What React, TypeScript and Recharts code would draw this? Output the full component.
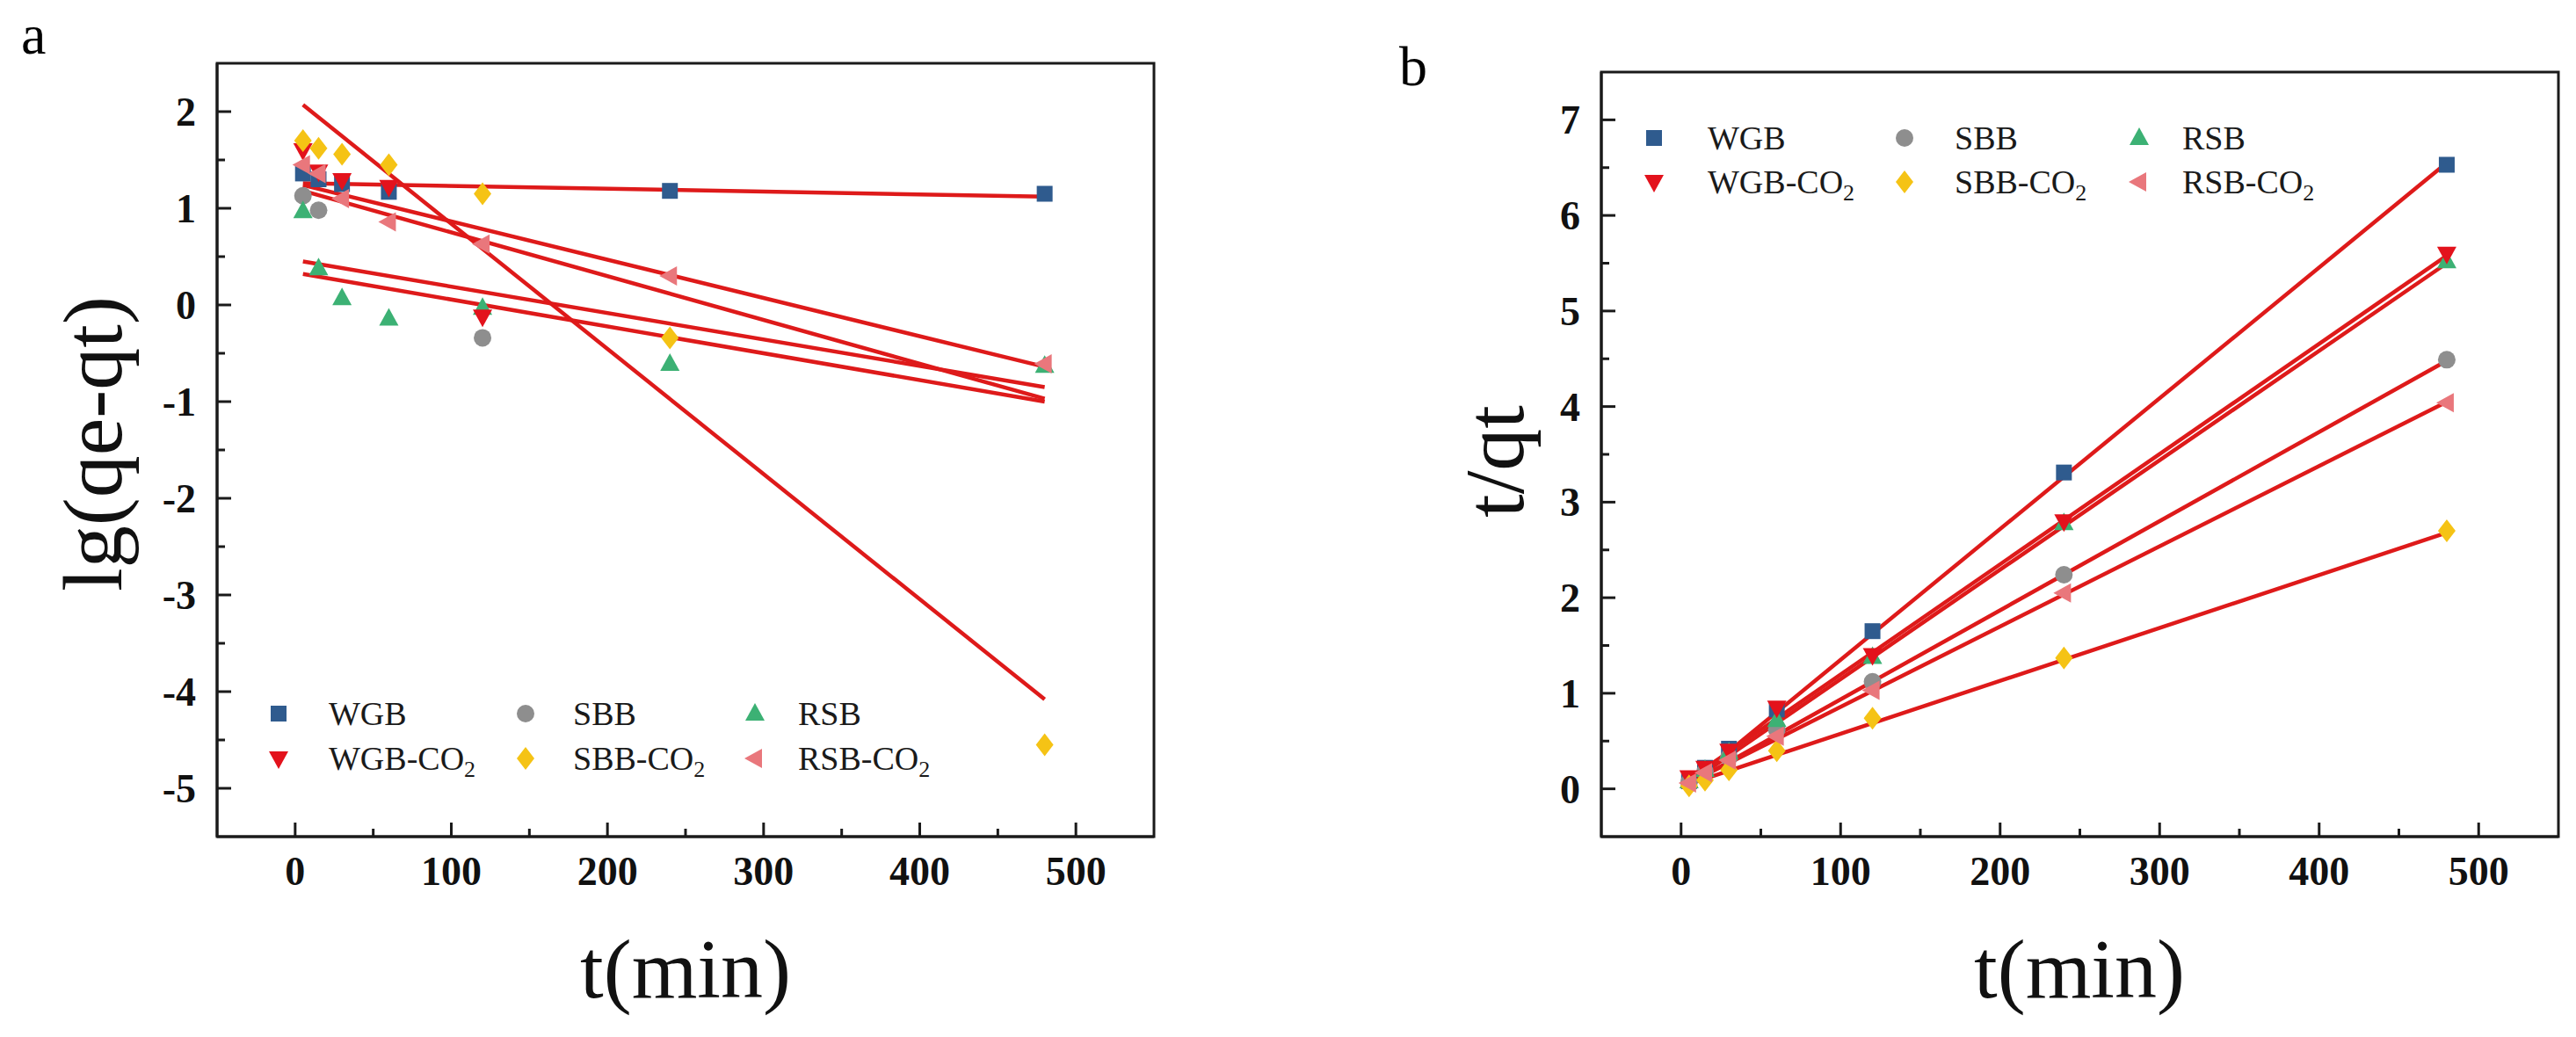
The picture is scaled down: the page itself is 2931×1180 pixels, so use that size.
import React from 'react';
import {
  ComposedChart,
  Scatter,
  Line,
  XAxis,
  YAxis,
  ReferenceArea,
  Legend,
  Label,
} from 'recharts';

const SERIF = "'Liberation Serif', 'Times New Roman', serif";

// sampling times (min)
const times = [5, 15, 30, 60, 120, 240, 480];
const fitTimes = [5, 480];

// panel a: pseudo-first-order, lg(qe-qt)
const lgWGB = [1.36, 1.3, 1.25, 1.17, null, 1.18, 1.15];
const lgWGBCO2 = [1.6, 1.38, 1.29, 1.22, -0.12, null, null];
const lgSBB = [1.13, 0.98, null, null, -0.34, null, null];
const lgSBBCO2 = [1.7, 1.62, 1.56, 1.45, 1.15, -0.34, -4.55];
const lgRSB = [0.97, 0.38, 0.07, -0.14, -0.03, -0.61, -0.63];
const lgRSBCO2 = [1.45, 1.36, 1.1, 0.86, 0.63, 0.3, -0.61];

// fitted line end values (t = 5, t = 480)
const fitLgWGB = [1.26, 1.12];
const fitLgWGBCO2 = [1.18, -0.97];
const fitLgSBB = [0.32, -1.0];
const fitLgSBBCO2 = [2.07, -4.08];
const fitLgRSB = [0.45, -0.85];
const fitLgRSBCO2 = [1.24, -0.64];

// panel b: pseudo-second-order, t/qt
const tqWGB = [0.08, 0.22, 0.42, 0.83, 1.65, 3.31, 6.53];
const tqWGBCO2 = [0.12, 0.22, 0.4, 0.85, 1.4, 2.8, 5.6];
const tqSBB = [0.07, 0.18, 0.33, 0.62, 1.12, 2.24, 4.49];
const tqSBBCO2 = [0.03, 0.09, 0.2, 0.4, 0.74, 1.37, 2.7];
const tqRSB = [0.08, 0.2, 0.38, 0.72, 1.38, 2.78, 5.52];
const tqRSBCO2 = [0.06, 0.17, 0.3, 0.55, 1.03, 2.05, 4.04];

const fitTqWGB = [0.05, 6.55];
const fitTqWGBCO2 = [0.1, 5.58];
const fitTqSBB = [0.05, 4.48];
const fitTqSBBCO2 = [0.05, 2.68];
const fitTqRSB = [0.06, 5.5];
const fitTqRSBCO2 = [0.06, 4.05];

const xTicks = [0, 50, 100, 150, 200, 250, 300, 350, 400, 450, 500];
const yTicksA = [-5, -4.5, -4, -3.5, -3, -2.5, -2, -1.5, -1, -0.5, 0, 0.5, 1, 1.5, 2];
const yTicksB = [0, 0.5, 1, 1.5, 2, 2.5, 3, 3.5, 4, 4.5, 5, 5.5, 6, 6.5, 7];

type Kind = 'square' | 'circle' | 'up' | 'down' | 'diamond' | 'left';

const seriesStyle: { name: string; co2: boolean; color: string; kind: Kind }[] = [
  { name: 'WGB', co2: false, color: '#2f5b8e', kind: 'square' },
  { name: 'SBB', co2: false, color: '#8e8e8e', kind: 'circle' },
  { name: 'RSB', co2: false, color: '#3cb174', kind: 'up' },
  { name: 'WGB', co2: true, color: '#e3121c', kind: 'down' },
  { name: 'SBB', co2: true, color: '#f5c315', kind: 'diamond' },
  { name: 'RSB', co2: true, color: '#e9777c', kind: 'left' },
];

const FIT_RED = '#de1a1a';

const toPts = (vals: (number | null)[]) =>
  times.map((t, i) => ({ t, v: vals[i] })).filter((p) => p.v !== null);
const toFit = (vals: number[]) => fitTimes.map((t, i) => ({ t, v: vals[i] }));

const pointsA = [lgWGB, lgSBB, lgRSB, lgWGBCO2, lgSBBCO2, lgRSBCO2].map(toPts);
const fitsA = [fitLgWGB, fitLgSBB, fitLgRSB, fitLgWGBCO2, fitLgSBBCO2, fitLgRSBCO2].map(toFit);
const pointsB = [tqWGB, tqSBB, tqRSB, tqWGBCO2, tqSBBCO2, tqRSBCO2].map(toPts);
const fitsB = [fitTqWGB, fitTqSBB, fitTqRSB, fitTqWGBCO2, fitTqSBBCO2, fitTqRSBCO2].map(toFit);

function Marker({ kind, cx, cy, color }: { kind: Kind; cx: number; cy: number; color: string }) {
  switch (kind) {
    case 'square':
      return <rect x={cx - 9} y={cy - 9} width={18} height={18} fill={color} />;
    case 'circle':
      return <circle cx={cx} cy={cy} r={10} fill={color} />;
    case 'up':
      return <path d={`M${cx},${cy - 12} L${cx + 11},${cy + 8} L${cx - 11},${cy + 8} Z`} fill={color} />;
    case 'down':
      return <path d={`M${cx},${cy + 12} L${cx + 11},${cy - 8} L${cx - 11},${cy - 8} Z`} fill={color} />;
    case 'diamond':
      return <path d={`M${cx},${cy - 13} L${cx + 10},${cy} L${cx},${cy + 13} L${cx - 10},${cy} Z`} fill={color} />;
    case 'left':
      return <path d={`M${cx - 12},${cy} L${cx + 8},${cy - 11} L${cx + 8},${cy + 11} Z`} fill={color} />;
  }
  return null;
}

const XTick = (props: any) => {
  const { x, y, payload } = props;
  const v = payload.value;
  const major = v % 100 === 0;
  return (
    <g>
      <line x1={x} x2={x} y1={y} y2={y - (major ? 16 : 9)} stroke="#1a1a1a" strokeWidth={3} />
      {major && (
        <text x={x} y={y + 55} textAnchor="middle" fontFamily={SERIF} fontWeight={700} fontSize={46} fill="#111">
          {v}
        </text>
      )}
    </g>
  );
};

const YTick = (props: any) => {
  const { x, y, payload } = props;
  const v = payload.value;
  const major = Number.isInteger(v);
  return (
    <g>
      <line x1={x} x2={x + (major ? 16 : 9)} y1={y} y2={y} stroke="#1a1a1a" strokeWidth={3} />
      {major && (
        <text x={x - 24} y={y + 16} textAnchor="end" fontFamily={SERIF} fontWeight={700} fontSize={46} fill="#111">
          {v}
        </text>
      )}
    </g>
  );
};

type LegendLayout = { markerX: number[]; textX: number[]; rowY: number[] };

function LegendGrid({ layout }: { layout: LegendLayout }) {
  return (
    <div style={{ position: 'absolute', left: 0, top: 0 }}>
      {seriesStyle.map((s, i) => {
        const col = i % 3;
        const row = Math.floor(i / 3);
        const cy = layout.rowY[row];
        return (
          <React.Fragment key={i}>
            <svg
              width={40}
              height={40}
              style={{ position: 'absolute', left: layout.markerX[col] - 20, top: cy - 20 }}
            >
              <Marker kind={s.kind} cx={20} cy={20} color={s.color} />
            </svg>
            <div
              style={{
                position: 'absolute',
                left: layout.textX[col],
                top: cy - 25,
                height: 50,
                lineHeight: '50px',
                fontFamily: SERIF,
                fontSize: 38,
                color: '#1a1a1a',
                whiteSpace: 'nowrap',
              }}
            >
              {s.name}
              {s.co2 && (
                <>
                  -CO<sub style={{ fontSize: 26, verticalAlign: -8, lineHeight: 0 }}>2</sub>
                </>
              )}
            </div>
          </React.Fragment>
        );
      })}
    </div>
  );
}

type PanelProps = {
  width: number;
  margin: { top: number; right: number; bottom: number; left: number };
  yDomain: [number, number];
  yTicks: number[];
  points: { t: number; v: number | null }[][];
  fits: { t: number; v: number }[][];
  xTitle: { x: number; y: number };
  yTitle: { x: number; y: number; text: string };
  legend: LegendLayout;
};

function Panel({ width, margin, yDomain, yTicks, points, fits, xTitle, yTitle, legend }: PanelProps) {
  return (
    <ComposedChart width={width} height={1180} margin={margin}>
      <XAxis
        dataKey="t"
        type="number"
        domain={[-50, 550]}
        ticks={xTicks}
        interval={0}
        allowDataOverflow
        height={60}
        tickSize={0}
        tickMargin={0}
        tickLine={false}
        tick={<XTick />}
        axisLine={{ stroke: '#1a1a1a', strokeWidth: 3 }}
      >
        <Label
          content={() => (
            <text x={xTitle.x} y={xTitle.y} textAnchor="middle" fontFamily={SERIF} fontSize={96} fill="#111">
              t(min)
            </text>
          )}
        />
      </XAxis>
      <YAxis
        type="number"
        domain={yDomain}
        ticks={yTicks}
        interval={0}
        allowDataOverflow
        width={120}
        tickSize={0}
        tickMargin={0}
        tickLine={false}
        tick={<YTick />}
        axisLine={{ stroke: '#1a1a1a', strokeWidth: 3 }}
      >
        <Label
          content={() => (
            <text
              x={yTitle.x}
              y={yTitle.y}
              textAnchor="middle"
              dominantBaseline="central"
              transform={`rotate(-90 ${yTitle.x} ${yTitle.y})`}
              fontFamily={SERIF}
              fontSize={96}
              fill="#111"
            >
              {yTitle.text}
            </text>
          )}
        />
      </YAxis>
      <ReferenceArea
        x1={-50}
        x2={550}
        y1={yDomain[0]}
        y2={yDomain[1]}
        fill="none"
        stroke="#1a1a1a"
        strokeWidth={3}
        ifOverflow="visible"
      />
      {points.map((pts, i) => {
        const s = seriesStyle[i];
        return (
          <Scatter
            key={`p${i}`}
            name={s.name}
            data={pts}
            dataKey="v"
            fill={s.color}
            isAnimationActive={false}
            shape={(p: any) => <Marker kind={s.kind} cx={p.cx} cy={p.cy} color={s.color} />}
          />
        );
      })}
      {fits.map((f, i) => (
        <Line
          key={`f${i}`}
          data={f}
          dataKey="v"
          stroke={FIT_RED}
          strokeWidth={4.5}
          dot={false}
          activeDot={false}
          legendType="none"
          isAnimationActive={false}
        />
      ))}
      <Legend
        verticalAlign="middle"
        layout="horizontal"
        wrapperStyle={{ left: 0, top: 0, width: 0, height: 0 }}
        content={() => <LegendGrid layout={legend} />}
      />
    </ComposedChart>
  );
}

export default function App() {
  return (
    <div style={{ position: 'relative', width: 2931, height: 1180, background: '#fff', overflow: 'hidden' }}>
      <style>{'body{margin:0;background:#fff}'}</style>
      <div style={{ position: 'absolute', left: 24, top: 0, fontFamily: SERIF, fontSize: 64, lineHeight: '80px' }}>a</div>
      <div style={{ position: 'absolute', left: 1592, top: 36, fontFamily: SERIF, fontSize: 64, lineHeight: '80px' }}>b</div>
      <div style={{ position: 'absolute', left: 0, top: 0 }}>
        <Panel
          width={1400}
          margin={{ top: 72, right: 87, bottom: 168, left: 127 }}
          yDomain={[-5.5, 2.5]}
          yTicks={yTicksA}
          points={pointsA}
          fits={fitsA}
          xTitle={{ x: 780, y: 1135 }}
          yTitle={{ x: 105, y: 505, text: 'lg(qe-qt)' }}
          legend={{ markerX: [317, 598, 859], textX: [374, 652, 908], rowY: [812, 863] }}
        />
      </div>
      <div style={{ position: 'absolute', left: 1450, top: 0 }}>
        <Panel
          width={1481}
          margin={{ top: 82, right: 20, bottom: 168, left: 252 }}
          yDomain={[-0.5, 7.5]}
          yTicks={yTicksB}
          points={pointsB}
          fits={fitsB}
          xTitle={{ x: 916, y: 1135 }}
          yTitle={{ x: 250, y: 525, text: 't/qt' }}
          legend={{ markerX: [432, 717, 984], textX: [493, 774, 1033], rowY: [157, 207] }}
        />
      </div>
    </div>
  );
}
